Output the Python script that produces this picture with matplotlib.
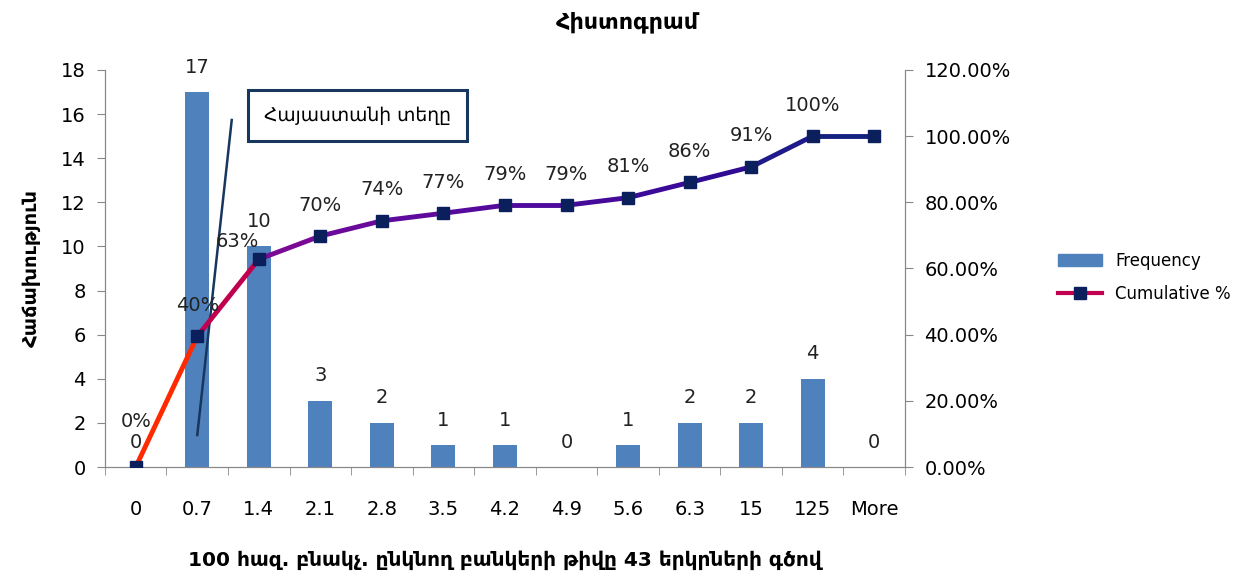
import matplotlib
matplotlib.use("Agg")
import matplotlib.pyplot as plt
import numpy as np
from matplotlib.lines import Line2D
from matplotlib.patches import Patch

plt.rcParams['font.family'] = ['DejaVu Sans']

categories = ["0", "0.7", "1.4", "2.1", "2.8", "3.5", "4.2", "4.9", "5.6", "6.3", "15", "125", "More"]
frequency = [0, 17, 10, 3, 2, 1, 1, 0, 1, 2, 2, 4, 0]
cumulative = [0, 39.5, 62.8, 69.8, 74.4, 76.7, 79.1, 79.1, 81.4, 86.0, 90.7, 100, 100]
cum_labels = ["0%", "40%", "63%", "70%", "74%", "77%", "79%", "79%", "81%", "86%", "91%", "100%", ""]

x = np.arange(len(categories))

fig = plt.figure(figsize=(12.42, 5.78), dpi=100)
ax = fig.add_axes([0.0845, 0.192, 0.6442, 0.687])
ax2 = ax.twinx()

ax.bar(x, frequency, width=0.39, color="#4f81bd", zorder=2)
for xi, f in zip(x, frequency):
    ax.text(xi, f + 0.7, str(f), ha="center", va="bottom", fontsize=14, color="#222222")

ax.set_xlim(-0.5, len(categories) - 0.5)
ax.set_ylim(0, 18)
ax.set_yticks(range(0, 19, 2))
ax.set_xticks(x)
ax.set_xticklabels(categories, fontsize=14)
ax.set_xticks(np.arange(-0.5, len(categories), 1), minor=True)
ax.tick_params(axis="x", which="major", length=0, pad=24)
ax.tick_params(axis="x", which="minor", length=6, color="#888888", direction="out")
ax.tick_params(axis="y", labelsize=14, length=6, color="#888888", pad=8)

ax2.set_ylim(0, 120)
ax2.set_yticks(range(0, 121, 20))
ax2.set_yticklabels([f"{v:.2f}%" for v in range(0, 121, 20)], fontsize=14)
ax2.tick_params(axis="y", length=6, color="#888888", pad=8)

for a in (ax, ax2):
    for s in a.spines.values():
        s.set_color("#888888")
    a.spines["top"].set_visible(False)

# cumulative line, colour shifts red -> purple -> navy
seg_colors = ["#ff2a00", "#c0004f", "#7a0a96", "#6a0a9a", "#5f0a9c", "#560a9c",
              "#4e0a9c", "#460a9a", "#3c0a98", "#300c94", "#1f1a8a", "#14207e"]
for i in range(len(x) - 1):
    ax2.plot(x[i:i + 2], cumulative[i:i + 2], color=seg_colors[i], lw=3.5,
             solid_capstyle="round", zorder=3)
ax2.plot(x, cumulative, ls="none", marker="s", ms=9, color="#0a1f5c", zorder=4)
for xi, c, lab in zip(x, cumulative, cum_labels):
    tx, dy = xi, 6.5
    if c == 0:
        dy = 11
    elif lab == "63%":
        tx, dy = xi - 0.35, 2.5
    ax2.text(tx, c + dy, lab, ha="center", va="bottom", fontsize=14, color="#222222", zorder=5)

# annotation for Armenia
ax.plot([1.0, 1.56], [1.45, 15.73], color="#17375e", lw=1.8, zorder=5)
ax.text(3.6, 15.95, "Հայաստանի տեղը", ha="center", va="center", fontsize=13.5,
        bbox=dict(boxstyle="square,pad=0.85", fc="white", ec="#17375e", lw=2.2), zorder=6)

ax.set_ylabel("Հաճախություն", fontsize=14, fontweight="bold")
ax.yaxis.set_label_coords(-0.08, 0.5)
ax.set_xlabel("100 հազ. բնակչ. ընկնող բանկերի թիվը 43 երկրների գծով",
              fontsize=14.5, fontweight="bold")
ax.xaxis.set_label_coords(0.5, -0.21)
fig.suptitle("Հիստոգրամ", x=0.505, y=0.98, fontsize=16, fontweight="bold")

handles = [Patch(color="#4f81bd"),
           Line2D([0], [0], color="#c0004f", lw=3, marker="s", ms=8,
                  markerfacecolor="#0a1f5c", markeredgecolor="#0a1f5c")]
fig.legend(handles, ["Frequency", "Cumulative %"], loc="center left",
           bbox_to_anchor=(0.84, 0.52), frameon=False, fontsize=12,
           handlelength=2.6, labelspacing=0.9)

fig.savefig("out.png", dpi=100)
